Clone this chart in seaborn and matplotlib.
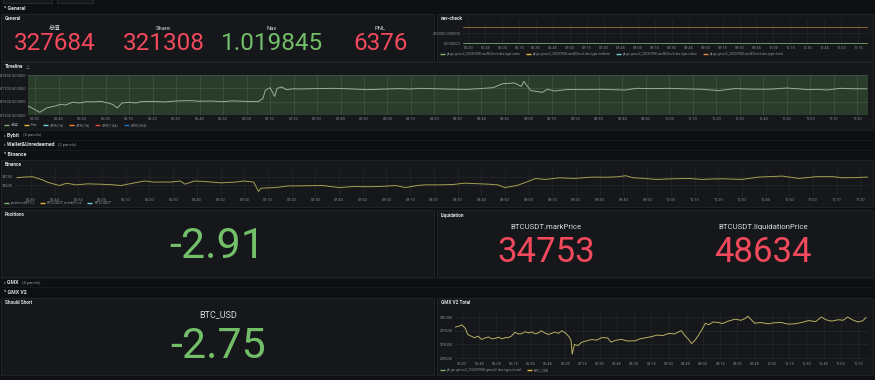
import matplotlib
matplotlib.use("Agg")
import matplotlib.pyplot as plt
import seaborn as sns
from matplotlib.patches import Rectangle
from matplotlib.ticker import FuncFormatter

# Data

stat_labels = ["总值", "Share", "Nav", "PNL"]
stat_values = ["327684", "321308", "1.019845", "6376"]
stat_good = [False, False, True, False]

timeline_times = ["05:27", "05:28", "05:30", "05:32", "05:35", "05:38", "05:41", "05:43", "05:46", "05:49",
                  "05:52", "05:55", "05:58", "06:01", "06:03", "06:05", "06:07", "06:10", "06:13", "06:15",
                  "06:20", "06:25", "06:30", "06:36", "06:40", "06:45", "06:50", "06:54", "07:00", "07:05",
                  "07:07", "07:08", "07:10", "07:12", "07:13", "07:15", "07:17", "07:20", "07:23", "07:30",
                  "07:37", "07:44", "07:51", "07:58", "08:05", "08:10", "08:14", "08:20", "08:27", "08:34",
                  "08:41", "08:45", "08:49", "08:54", "08:57", "08:58", "09:01", "09:06", "09:08", "09:11",
                  "09:17", "09:24", "09:31", "09:36", "09:41", "09:46", "09:53", "10:00", "10:07", "10:14",
                  "10:21", "10:28", "10:35", "10:42", "10:50", "10:55", "10:59", "11:03", "11:07", "11:13",
                  "11:18", "11:24"]
timeline_values = [327565, 327560, 327540, 327520, 327553, 327565, 327580, 327575, 327596, 327590,
                   327600, 327598, 327602, 327590, 327580, 327553, 327590, 327595, 327590, 327600,
                   327602, 327598, 327605, 327608, 327603, 327605, 327600, 327606, 327602, 327600,
                   327625, 327685, 327705, 327640, 327700, 327710, 327690, 327697, 327695, 327698,
                   327700, 327696, 327690, 327694, 327698, 327695, 327700, 327697, 327694, 327692,
                   327700, 327705, 327735, 327740, 327715, 327752, 327683, 327670, 327693, 327680,
                   327692, 327690, 327693, 327690, 327687, 327700, 327698, 327700, 327696, 327693,
                   327683, 327698, 327694, 327693, 327702, 327696, 327690, 327692, 327688, 327700,
                   327697, 327696]
timeline_legend = ["总值", "Nav", "APR(1d)", "APR(7d)", "APR(14d)", "APR(30d)"]

binance_times = ["05:24", "05:27", "05:30", "05:31", "05:35", "05:37", "05:42", "05:45", "05:49", "05:54",
                 "05:59", "06:04", "06:08", "06:13", "06:18", "06:22", "06:26", "06:29", "06:33", "06:35",
                 "06:39", "06:45", "06:50", "06:56", "07:00", "07:04", "07:06", "07:07", "07:10", "07:13",
                 "07:19", "07:24", "07:28", "07:33", "07:40", "07:46", "07:53", "07:58", "08:04", "08:08",
                 "08:13", "08:16", "08:22", "08:28", "08:33", "08:38", "08:43", "08:47", "08:50", "08:55",
                 "08:59", "09:03", "09:07", "09:13", "09:19", "09:27", "09:32", "09:37", "09:41", "09:44",
                 "09:49", "09:54", "10:01", "10:08", "10:13", "10:18", "10:22", "10:30", "10:37", "10:42",
                 "10:47", "10:54", "11:01", "11:05", "11:09", "11:12", "11:18", "11:24"]
binance_values = [34722, 34740, 34750, 34745, 34653, 34587, 34490, 34558, 34510, 34540,
                  34530, 34515, 34490, 34560, 34625, 34590, 34595, 34592, 34625, 34530,
                  34625, 34600, 34570, 34590, 34625, 34590, 34315, 34410, 34420, 34430,
                  34480, 34480, 34485, 34490, 34430, 34460, 34455, 34465, 34490, 34430,
                  34490, 34510, 34510, 34520, 34560, 34545, 34530, 34510, 34430, 34490,
                  34590, 34700, 34670, 34720, 34700, 34740, 34735, 34745, 34780, 34720,
                  34700, 34670, 34690, 34700, 34670, 34685, 34690, 34670, 34740, 34755,
                  34770, 34700, 34750, 34755, 34750, 34720, 34725, 34745]
binance_legend = ["position(BTC)", "BTCUSDT.markPrice", "BTCUSDT"]

gmx_times = ["05:24", "05:27", "05:30", "05:33", "05:35", "05:38", "05:41", "05:44", "05:47", "05:50",
             "05:53", "05:56", "05:59", "06:02", "06:05", "06:08", "06:10", "06:13", "06:16", "06:19",
             "06:22", "06:25", "06:28", "06:31", "06:34", "06:37", "06:39", "06:42", "06:45", "06:48",
             "06:51", "06:54", "06:57", "07:00", "07:03", "07:05", "07:06", "07:08", "07:11", "07:14",
             "07:18", "07:23", "07:27", "07:32", "07:37", "07:40", "07:44", "07:49", "07:54", "08:01",
             "08:05", "08:10", "08:15", "08:20", "08:25", "08:30", "08:35", "08:41", "08:44", "08:47",
             "08:50", "08:53", "08:56", "08:59", "09:02", "09:05", "09:09", "09:13", "09:17", "09:22",
             "09:28", "09:33", "09:37", "09:39", "09:42", "09:45", "09:50", "09:57", "10:02", "10:08",
             "10:14", "10:20", "10:26", "10:32", "10:38", "10:43", "10:47", "10:52", "10:58", "11:02",
             "11:06", "11:10", "11:15", "11:19", "11:22"]
gmx_values = [279630, 279660, 279710, 279580, 279360, 279300, 279240, 279300, 279180, 279230,
              279270, 279200, 279220, 279260, 279200, 279250, 279240, 279300, 279440, 279380,
              279390, 279460, 279420, 279450, 279380, 279430, 279500, 279420, 279360, 279400,
              279450, 279400, 279500, 279420, 279290, 279150, 278640, 279000, 278950, 279070,
              279120, 279180, 279150, 279250, 279230, 279080, 279150, 279180, 279120, 279130,
              279200, 279240, 279280, 279340, 279320, 279400, 279380, 279500, 279330, 279200,
              279030, 279150, 279330, 279540, 279770, 279720, 279820, 279800, 279760, 279850,
              279920, 279880, 279950, 280030, 279900, 279770, 279800, 279750, 279790, 279800,
              279740, 279750, 279800, 279870, 279830, 280000, 279900, 279850, 279900, 279880,
              280000, 279900, 279820, 279860, 279980]
gmx_legend = ["pk.go.gmxv2_20230908.gmxv2.dex.type=total", "BTC_USD"]

navcheck_times = ["05:25", "11:23"]
navcheck_total = [321308, 321308]
navcheck_zero = [0, 0]
navcheck_legend = ["pk.go.gmxv2_20230908.navNCheck.dex.type=ratio",
                   "pk.go.gmxv2_20230908.navNCheck.dex.type=redeem",
                   "pk.go.gmxv2_20230908.navNCheck.dex.type=value",
                   "pk.go.gmxv2_20230908.navNCheck.dex.type=total"]

positions_value = "-2.91"
liq_labels = ["BTCUSDT.markPrice", "BTCUSDT.liquidationPrice"]
liq_values = ["34753", "48634"]
short_label = "BTC_USD"
short_value = "-2.75"

# Style

CANVAS = "#0e0f12"
PANEL = "#16171b"
BORDER = "#24262b"
TITLE = "#d8d9da"
TICK = "#8e9096"
GRID = "#27292e"
RED = "#f2495c"
GREEN = "#73bf69"
PALETTE = ["#7eb26d", "#eab839", "#6ed0e0", "#ef843c", "#e24d42", "#1f78c1"]

sns.set_theme(style="dark")
plt.rcParams["font.family"] = ["Roboto", "DejaVu Sans", "Noto Sans CJK SC"]


def to_min(ts):
    return [int(t[:2]) * 60 + int(t[3:]) for t in ts]


def hhmm(v, pos=None):
    v = int(round(v))
    return f"{v // 60:02d}:{v % 60:02d}"


W, H = 875, 380
fig = plt.figure(figsize=(W / 100, H / 100), dpi=100, facecolor=CANVAS)
bg = fig.add_axes([0, 0, 1, 1])
bg.set_xlim(0, W)
bg.set_ylim(H, 0)
bg.axis("off")
renderer = fig.canvas.get_renderer()


def panel(x0, y0, x1, y1, title=None, icon=None):
    bg.add_patch(Rectangle((x0, y0), x1 - x0, y1 - y0, facecolor=PANEL, edgecolor=BORDER, lw=0.6))
    if title:
        t = bg.text(x0 + 4, y0 + 5, title, fontsize=3.4, color=TITLE, fontweight="bold", va="center")
        if icon:
            w = t.get_window_extent(renderer).width
            bg.text(x0 + 7 + w, y0 + 5, icon, fontsize=3.6, color=TICK, va="center")


def row(y, name, collapsed=False, extra=None):
    bg.plot([0, W], [y - 5, y - 5], color="#1b1c20", lw=0.6)
    mark = "›" if collapsed else "˅"
    t = bg.text(4, y, f"{mark} {name}", fontsize=3.8, color=TITLE, fontweight="bold", va="center")
    if extra:
        w = t.get_window_extent(renderer).width
        bg.text(8 + w, y, extra, fontsize=3.0, color=TICK, va="center")


def legend(x, y, labels, colors, fs=3.0):
    for lab, col in zip(labels, colors):
        bg.plot([x, x + 5], [y, y], color=col, lw=1.0, solid_capstyle="butt")
        t = bg.text(x + 7, y, lab, fontsize=fs, color=TICK, va="center")
        x += 7 + t.get_window_extent(renderer).width + 5


def px_axes(x0, y0, x1, y1):
    return fig.add_axes([x0 / W, 1 - y1 / H, (x1 - x0) / W, (y1 - y0) / H])


def ts_axes(rect, xlim, ylim, xstep, yticks, yfmt, face="none", grid=GRID):
    ax = px_axes(*rect)
    ax.set_facecolor(face)
    ax.set_xlim(*xlim)
    ax.set_ylim(*ylim)
    start = (int(xlim[0]) // xstep + 1) * xstep
    ax.set_xticks(list(range(start, int(xlim[1]) + 1, xstep)))
    ax.set_yticks(yticks)
    ax.xaxis.set_major_formatter(FuncFormatter(hhmm))
    ax.yaxis.set_major_formatter(FuncFormatter(yfmt))
    ax.tick_params(length=0, labelsize=2.8, colors=TICK, pad=1.5)
    ax.grid(True, color=grid, lw=0.45)
    for s in ax.spines.values():
        s.set_visible(False)
    return ax


def draw_line(ax, times, values, color):
    sns.lineplot(x=to_min(times), y=values, ax=ax, color=color, lw=0.7)
    ax.set_xlabel("")
    ax.set_ylabel("")


# Top strip and first row
bg.add_patch(Rectangle((3, -6), 49, 9, facecolor="#16171b", edgecolor="#2c2e33", lw=0.6))
bg.add_patch(Rectangle((57, -6), 36, 9, facecolor="#16171b", edgecolor="#2c2e33", lw=0.6))
bg.text(4, 8, "˅ General", fontsize=3.8, color=TITLE, fontweight="bold", va="center")

# General stat panel
panel(1, 14, 434, 61, "General")
for i, (lab, val, good) in enumerate(zip(stat_labels, stat_values, stat_good)):
    cx = 55 + i * 108.5
    bg.text(cx, 28, lab, fontsize=4.2, color=TITLE, ha="center", va="center")
    bg.text(cx, 44, val, fontsize=17.5, color=GREEN if good else RED, ha="center", va="center")

# nav-check panel
panel(437, 14, 873, 61, "nav-check")
ax = ts_axes((463, 20, 868, 44), (325.3, 683.7), (-14000, 466000), 15, [0, 200000],
             lambda v, p: f"{v:.6f}")
draw_line(ax, navcheck_times, navcheck_total, "#8a6434")
draw_line(ax, navcheck_times, navcheck_zero, "#6a9a5e")
legend(440, 54, navcheck_legend, PALETTE[:4], fs=2.3)

# Timeline panel
panel(1, 62, 873, 130, "Timeline", icon="△")
ax = ts_axes((28, 75, 868, 115), (327, 684.5), (327500, 327800), 10,
             [327500, 327600, 327700, 327800], lambda v, p: f"{v:.6f}",
             face="#2a3c2c", grid="#445a46")
draw_line(ax, timeline_times, timeline_values, "#97b293")
legend(4, 125, timeline_legend, PALETTE, fs=2.8)

row(135, "Bybit", True, "(4 panels)")
row(145, "Wallet&Unredeemed", True, "(2 panels)")
row(155, "Binance")

# Binance panel
panel(1, 160, 873, 207, "Binance")
ax = ts_axes((15, 170, 868, 196), (323.25, 683.2), (34180, 34950), 10, [34500, 34750],
             lambda v, p: f"{v:.0f}")
draw_line(ax, binance_times, binance_values, "#a4a050")
legend(4, 203, binance_legend, PALETTE[:3], fs=2.8)

# Positions and Liquidation
panel(1, 210, 434, 277, "Positions")
bg.text(217, 246, positions_value, fontsize=31, color=GREEN, ha="center", va="center")
panel(437, 210, 873, 277, "Liquidation")
for cx, lab, val in zip([546, 763], liq_labels, liq_values):
    bg.text(cx, 227, lab, fontsize=5.6, color=TITLE, ha="center", va="center")
    bg.text(cx, 252, val, fontsize=25, color=RED, ha="center", va="center")

row(283, "GMX", True, "(4 panels)")
row(292, "GMX V2")

# Should Short
panel(1, 298, 434, 375, "Should Short")
bg.text(218, 315, short_label, fontsize=6.5, color=TITLE, ha="center", va="center")
bg.text(218, 346, short_value, fontsize=31, color=GREEN, ha="center", va="center")

# GMX V2 Total
panel(437, 298, 873, 375, "GMX V2 Total")
ax = ts_axes((455, 312, 868, 360), (323.9, 683.7), (278427, 280183), 15,
             [278500, 279000, 279500, 280000], lambda v, p: f"{v:.0f}")
draw_line(ax, gmx_times, gmx_values, "#b9b062")
legend(440, 370, gmx_legend, PALETTE[:2], fs=2.6)

fig.savefig("out.png", dpi=100, facecolor=CANVAS)
